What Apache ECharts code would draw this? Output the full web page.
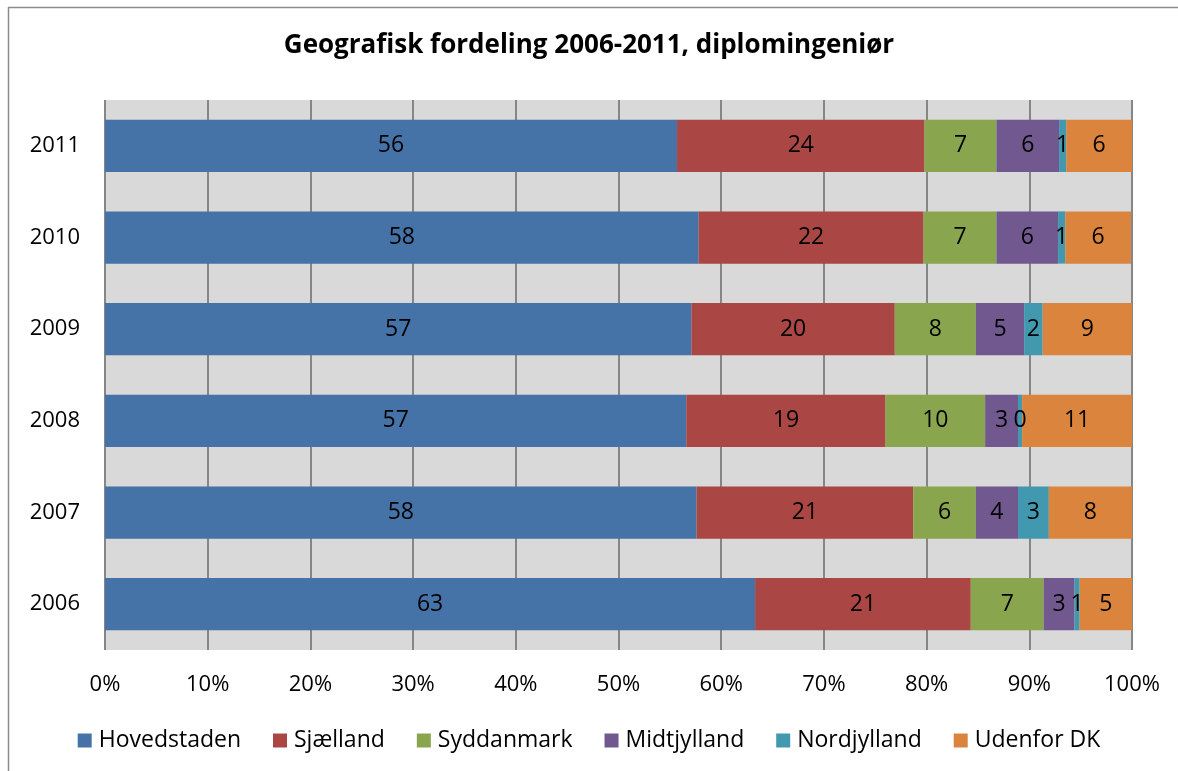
<!DOCTYPE html>
<html>
<head>
<meta charset="utf-8">
<script src="https://cdn.jsdelivr.net/npm/echarts@6/dist/echarts.min.js"></script>
<style>
    html, body { margin: 0; padding: 0; background: #ffffff; }
    #chart { width: 1178px; height: 771px; }
</style>
</head>
<body>
<div id="chart"></div>
<script>
var years = ['2006', '2007', '2008', '2009', '2010', '2011'];
var hovedstaden = [63.3, 57.6, 56.6, 57.1, 57.8, 55.7];
var sjaelland = [21.0, 21.1, 19.4, 19.8, 21.9, 24.1];
var syddanmark = [7.1, 6.1, 9.7, 7.9, 7.1, 7.0];
var midtjylland = [3.0, 4.1, 3.2, 4.7, 6.0, 6.1];
var nordjylland = [0.5, 3.0, 0.4, 1.8, 0.7, 0.7];
var udenfor = [5.1, 8.1, 10.7, 8.8, 6.4, 6.4];
var xTicks = [0, 10, 20, 30, 40, 50, 60, 70, 80, 90, 100];

var fontFam = '"Open Sans", "Noto Sans", sans-serif';

var myChart = echarts.init(document.getElementById('chart'));

function makeSeries(name, data, color) {
    return {
        name: name,
        type: 'bar',
        stack: 'total',
        barWidth: '57%',
        data: data,
        itemStyle: { color: color },
        label: {
            show: true,
            position: 'inside',
            color: '#000',
            fontSize: 23,
            fontFamily: fontFam,
            formatter: function (p) { return Math.round(p.value); }
        }
    };
}

var option = {
    backgroundColor: '#ffffff',
    animation: false,
    title: {
        text: 'Geografisk fordeling 2006-2011, diplomingeniør',
        left: 'center',
        top: 28,
        textStyle: {
            color: '#000',
            fontSize: 26,
            fontWeight: 'bold',
            fontFamily: fontFam
        }
    },
    legend: {
        bottom: 14,
        left: 'center',
        itemWidth: 14,
        itemHeight: 14,
        itemGap: 32,
        icon: 'rect',
        textStyle: { color: '#000', fontSize: 23, fontFamily: fontFam, padding: [0, 0, 0, 2] },
        data: ['Hovedstaden', 'Sjælland', 'Syddanmark', 'Midtjylland', 'Nordjylland', 'Udenfor DK']
    },
    grid: {
        left: 105,
        right: 46,
        top: 100,
        bottom: 121,
        show: true,
        backgroundColor: '#d9d9d9',
        borderWidth: 0
    },
    xAxis: {
        type: 'value',
        min: 0,
        max: 100,
        interval: 10,
        axisLine: { show: false },
        axisTick: { show: false },
        axisLabel: {
            color: '#000',
            fontSize: 22,
            fontFamily: fontFam,
            margin: 24,
            formatter: function (v) { return xTicks.indexOf(v) >= 0 ? v + '%' : ''; }
        },
        splitLine: { show: true, lineStyle: { color: '#868686', width: 2 } }
    },
    yAxis: {
        type: 'category',
        data: years,
        axisLine: { show: false },
        axisTick: { show: false },
        axisLabel: { color: '#000', fontSize: 22, fontFamily: fontFam, margin: 25 }
    },
    graphic: [
        { type: 'line', shape: { x1: 8, y1: 7.5, x2: 1178, y2: 7.5 }, style: { stroke: '#8c8c8c', lineWidth: 1.5 } },
        { type: 'line', shape: { x1: 8.5, y1: 7, x2: 8.5, y2: 771 }, style: { stroke: '#8c8c8c', lineWidth: 1.5 } }
    ],
    series: [
        makeSeries('Hovedstaden', hovedstaden, '#4572A7'),
        makeSeries('Sjælland', sjaelland, '#AA4643'),
        makeSeries('Syddanmark', syddanmark, '#89A54E'),
        makeSeries('Midtjylland', midtjylland, '#71588F'),
        makeSeries('Nordjylland', nordjylland, '#4198AF'),
        makeSeries('Udenfor DK', udenfor, '#DB843D')
    ]
};
myChart.setOption(option);
window.addEventListener("resize", function () {
    myChart.resize();
});
</script>
</body>
</html>
